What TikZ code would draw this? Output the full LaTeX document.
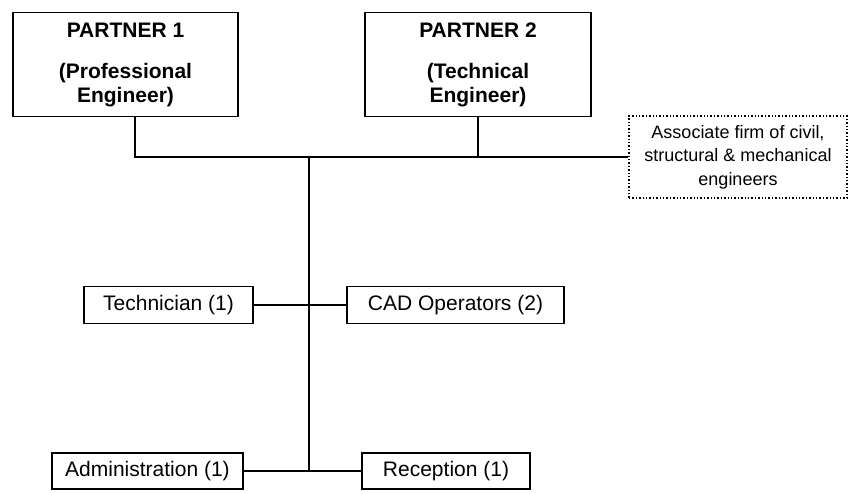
\documentclass[tikz,border=0pt]{standalone}
\usepackage{fontspec}
\setmainfont{Liberation Sans}

\tikzset{
  partner/.style={draw, line width=1.6pt, minimum width=225pt, minimum height=104pt,
    align=center, font=\fontsize{21}{24}\selectfont\bfseries},
  staff/.style={draw, line width=1.3pt, minimum height=37pt,
    font=\fontsize{21}{24}\selectfont},
  link/.style={line width=1.6pt}
}

\begin{document}
\begin{tikzpicture}[x=1pt,y=-1pt]
                \useasboundingbox (0,0) rectangle (849,493);
                \node[partner] (p1) at (125.5,64.5) {PARTNER 1\\[17pt](Professional\\Engineer)};
                \node[partner, minimum width=226pt] (p2) at (478,64.5) {PARTNER 2\\[17pt](Technical\\Engineer)};
                \node[draw, dotted, line width=1.4pt, minimum width=218pt, minimum height=82pt,
                  align=center, font=\fontsize{18}{23.5}\selectfont] (assoc) at (738,157)
                  {Associate firm of civil,\\structural \& mechanical\\engineers};
                \node[staff, minimum width=169pt] (tech) at (168.5,305) {Technician (1)};
                \node[staff, minimum width=217pt] (cad) at (455.5,305) {CAD Operators (2)};
                \node[staff, minimum width=191pt, minimum height=36pt] (admin) at (147.5,471) {Administration (1)};
                \node[staff, minimum width=168pt, minimum height=36pt] (recep) at (446,471) {Reception (1)};
                \coordinate (b1) at (135,157);
                \coordinate (trunk) at (309,157);
                \draw[link] (b1 |- p1.south) -- (b1) -- (assoc.west);
                \draw[link] (p2.south) -- (p2.south |- b1);
                \draw[link] (trunk) -- (trunk |- admin.east);
                \draw[link] (tech.east) -- (cad.west);
                \draw[link] (admin.east) -- (recep.west);
            \end{tikzpicture}
\end{document}
